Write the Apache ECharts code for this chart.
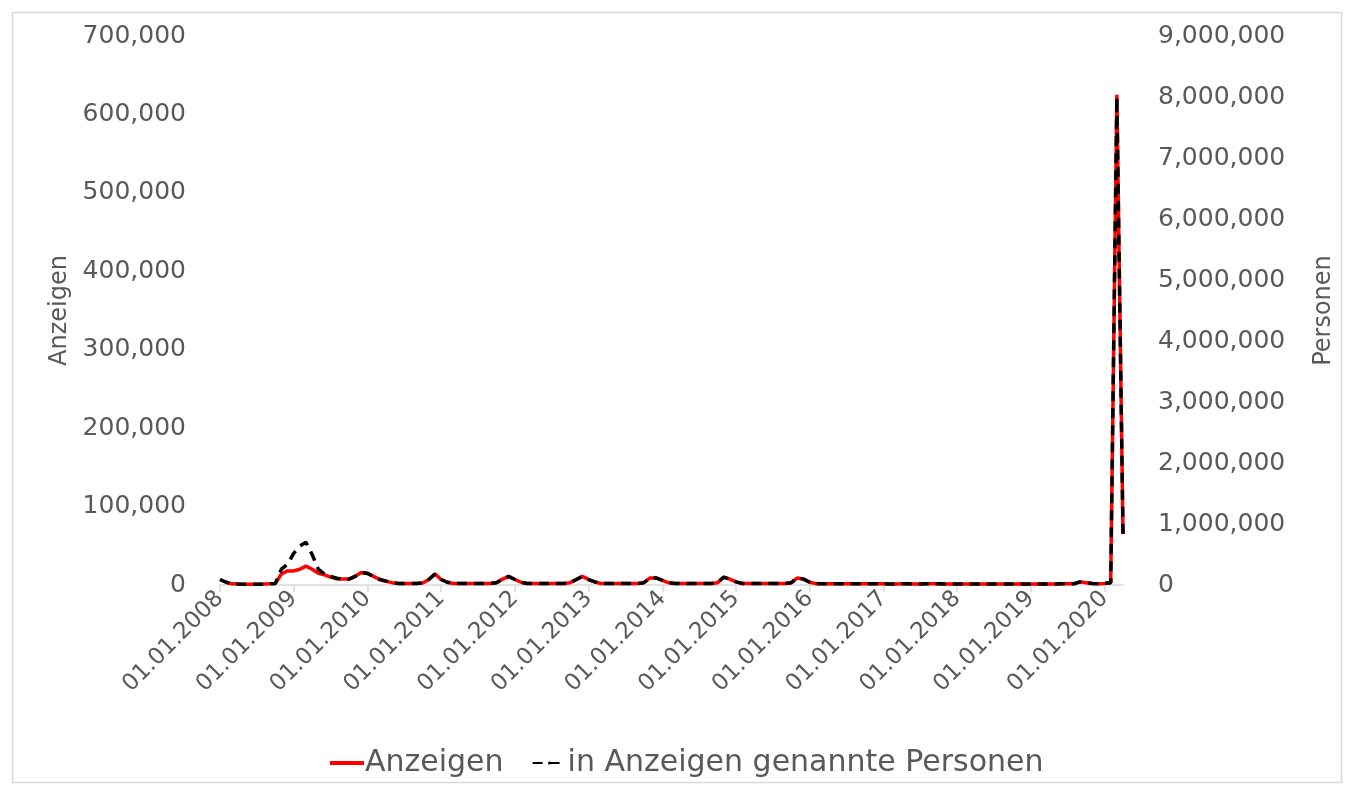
<!DOCTYPE html>
<html>
<head>
<meta charset="utf-8">
<script src="https://cdn.jsdelivr.net/npm/echarts@6/dist/echarts.min.js"></script>
<style>
html,body{margin:0;padding:0;background:#fff;}
#chart{width:1349px;height:789px;}
</style>
</head>
<body>
<div id="chart"></div>
<script>
// Monthly data, Jan 2008 – Apr 2020
var startYear = 2008, startMonth = 1, monthCount = 148;

var anzeigen = [
  // 2008
  7000, 3500, 1500, 1200, 1000, 1000, 1000, 1200, 1500, 2000, 14000, 18000,
  // 2009
  18000, 20000, 24000, 20000, 15000, 13000, 10000, 8000, 7500, 7500, 11000, 16000,
  // 2010
  15000, 11000, 7000, 5000, 3000, 2000, 2000, 2000, 2000, 2500, 7000, 14000,
  // 2011
  7000, 3500, 2000, 2000, 2000, 1800, 1800, 2000, 2000, 3000, 7500, 11000,
  // 2012
  7000, 3500, 2000, 1800, 1800, 1800, 1800, 2000, 2000, 3000, 7000, 11000,
  // 2013
  7000, 4000, 2000, 1800, 1800, 1800, 2000, 2000, 2000, 3000, 9000, 9000,
  // 2014
  6000, 3000, 2000, 1800, 1800, 1800, 1800, 1800, 2000, 3000, 10000, 7500,
  // 2015
  4000, 2000, 1800, 1800, 1800, 1800, 1800, 1800, 2000, 3000, 9000, 7500,
  // 2016
  3500, 1800, 1500, 1500, 1500, 1500, 1500, 1500, 1500, 1500, 1500, 1500,
  // 2017
  1500, 1400, 1400, 1500, 1500, 1400, 1400, 1500, 1500, 1500, 1400, 1400,
  // 2018
  1400, 1400, 1400, 1400, 1300, 1300, 1300, 1300, 1400, 1400, 1400, 1400,
  // 2019
  1400, 1400, 1400, 1400, 1400, 1500, 1500, 1500, 4000, 3000, 2000, 1500,
  // 2020
  2000, 3000, 625000, 65000
];

var personen = [
  // 2008
  90000, 45000, 19000, 15000, 13000, 13000, 13000, 15000, 19000, 26000, 260000, 340000,
  // 2009
  520000, 640000, 700000, 500000, 260000, 180000, 140000, 110000, 96000, 96000, 140000, 205000,
  // 2010
  190000, 140000, 90000, 64000, 38000, 26000, 26000, 26000, 26000, 32000, 90000, 180000,
  // 2011
  90000, 45000, 26000, 26000, 26000, 23000, 23000, 26000, 26000, 38000, 96000, 140000,
  // 2012
  90000, 45000, 26000, 23000, 23000, 23000, 23000, 26000, 26000, 38000, 90000, 140000,
  // 2013
  90000, 51000, 26000, 23000, 23000, 23000, 26000, 26000, 26000, 38000, 115000, 115000,
  // 2014
  77000, 38000, 26000, 23000, 23000, 23000, 23000, 23000, 26000, 38000, 128000, 96000,
  // 2015
  51000, 26000, 23000, 23000, 23000, 23000, 23000, 23000, 26000, 38000, 115000, 96000,
  // 2016
  45000, 23000, 19000, 19000, 19000, 19000, 19000, 19000, 19000, 19000, 19000, 19000,
  // 2017
  19000, 18000, 18000, 19000, 19000, 18000, 18000, 19000, 19000, 19000, 18000, 18000,
  // 2018
  18000, 18000, 18000, 18000, 17000, 17000, 17000, 17000, 18000, 18000, 18000, 18000,
  // 2019
  18000, 18000, 18000, 18000, 18000, 19000, 19000, 19000, 51000, 38000, 26000, 19000,
  // 2020
  26000, 38000, 8000000, 830000
];

var leftTicks = {min: 0, max: 700000, interval: 100000};
var rightTicks = {min: 0, max: 9000000, interval: 1000000};

var categories = [];
for (var i = 0; i < monthCount; i++) {
  var m = (startMonth - 1 + i) % 12 + 1;
  var y = startYear + Math.floor((startMonth - 1 + i) / 12);
  categories.push('01.' + (m < 10 ? '0' + m : m) + '.' + y);
}

function fmt(v) {
  return String(v).replace(/\B(?=(\d{3})+(?!\d))/g, ',');
}

var textColor = '#595959';
var fontFam = '"DejaVu Sans", sans-serif';

var chart = echarts.init(document.getElementById('chart'), null, {renderer: 'canvas'});
chart.setOption({
  backgroundColor: '#ffffff',
  animation: false,
  graphic: [{
    type: 'rect',
    left: 10, top: 10,
    shape: {width: 1329, height: 770},
    style: {fill: 'none', stroke: '#d9d9d9', lineWidth: 1.5},
    silent: true
  }],
  grid: {left: 220, right: 226, top: 36, bottom: 204, containLabel: false, outerBoundsMode: 'none'},
  legend: {
    left: 325, top: 743,
    itemWidth: 34, itemHeight: 4, itemGap: 28,
    textStyle: {color: textColor, fontSize: 30, fontFamily: fontFam, padding: [0, 0, 0, -4]},
    data: [
      {name: 'Anzeigen', icon: 'rect', itemStyle: {color: '#ff0000'}},
      {name: 'in Anzeigen genannte Personen'}
    ]
  },
  xAxis: {
    type: 'category',
    data: categories,
    boundaryGap: false,
    axisLine: {lineStyle: {color: '#d9d9d9', width: 1.5}},
    axisTick: {show: true, interval: 11, length: 7, lineStyle: {color: '#d9d9d9', width: 1.5}},
    axisLabel: {interval: 11, rotate: 45, margin: 10, color: textColor, fontSize: 23, fontFamily: fontFam},
    splitLine: {show: false}
  },
  yAxis: [{
    type: 'value',
    min: leftTicks.min, max: leftTicks.max, interval: leftTicks.interval,
    name: 'Anzeigen', nameLocation: 'middle', nameGap: 148, nameRotate: 90,
    nameTextStyle: {color: textColor, fontSize: 24, fontFamily: fontFam},
    axisLine: {show: false}, axisTick: {show: false}, splitLine: {show: false},
    axisLabel: {color: textColor, fontSize: 25, fontFamily: fontFam, margin: 34, formatter: fmt}
  }, {
    type: 'value',
    min: rightTicks.min, max: rightTicks.max, interval: rightTicks.interval,
    name: 'Personen', nameLocation: 'middle', nameGap: 189, nameRotate: 90,
    nameTextStyle: {color: textColor, fontSize: 24, fontFamily: fontFam},
    axisLine: {show: false}, axisTick: {show: false}, splitLine: {show: false},
    axisLabel: {color: textColor, fontSize: 25, fontFamily: fontFam, margin: 35, formatter: fmt}
  }],
  series: [{
    name: 'Anzeigen',
    type: 'line',
    yAxisIndex: 0,
    data: anzeigen,
    showSymbol: false,
    symbol: 'none',
    lineStyle: {color: '#ff0000', width: 3.5},
    itemStyle: {color: '#ff0000'},
    z: 2
  }, {
    name: 'in Anzeigen genannte Personen',
    type: 'line',
    yAxisIndex: 1,
    data: personen,
    showSymbol: false,
    symbol: 'none',
    lineStyle: {color: '#000000', width: 3.5, type: [10, 7]},
    itemStyle: {color: '#000000'},
    z: 3
  }]
});
</script>
</body>
</html>
